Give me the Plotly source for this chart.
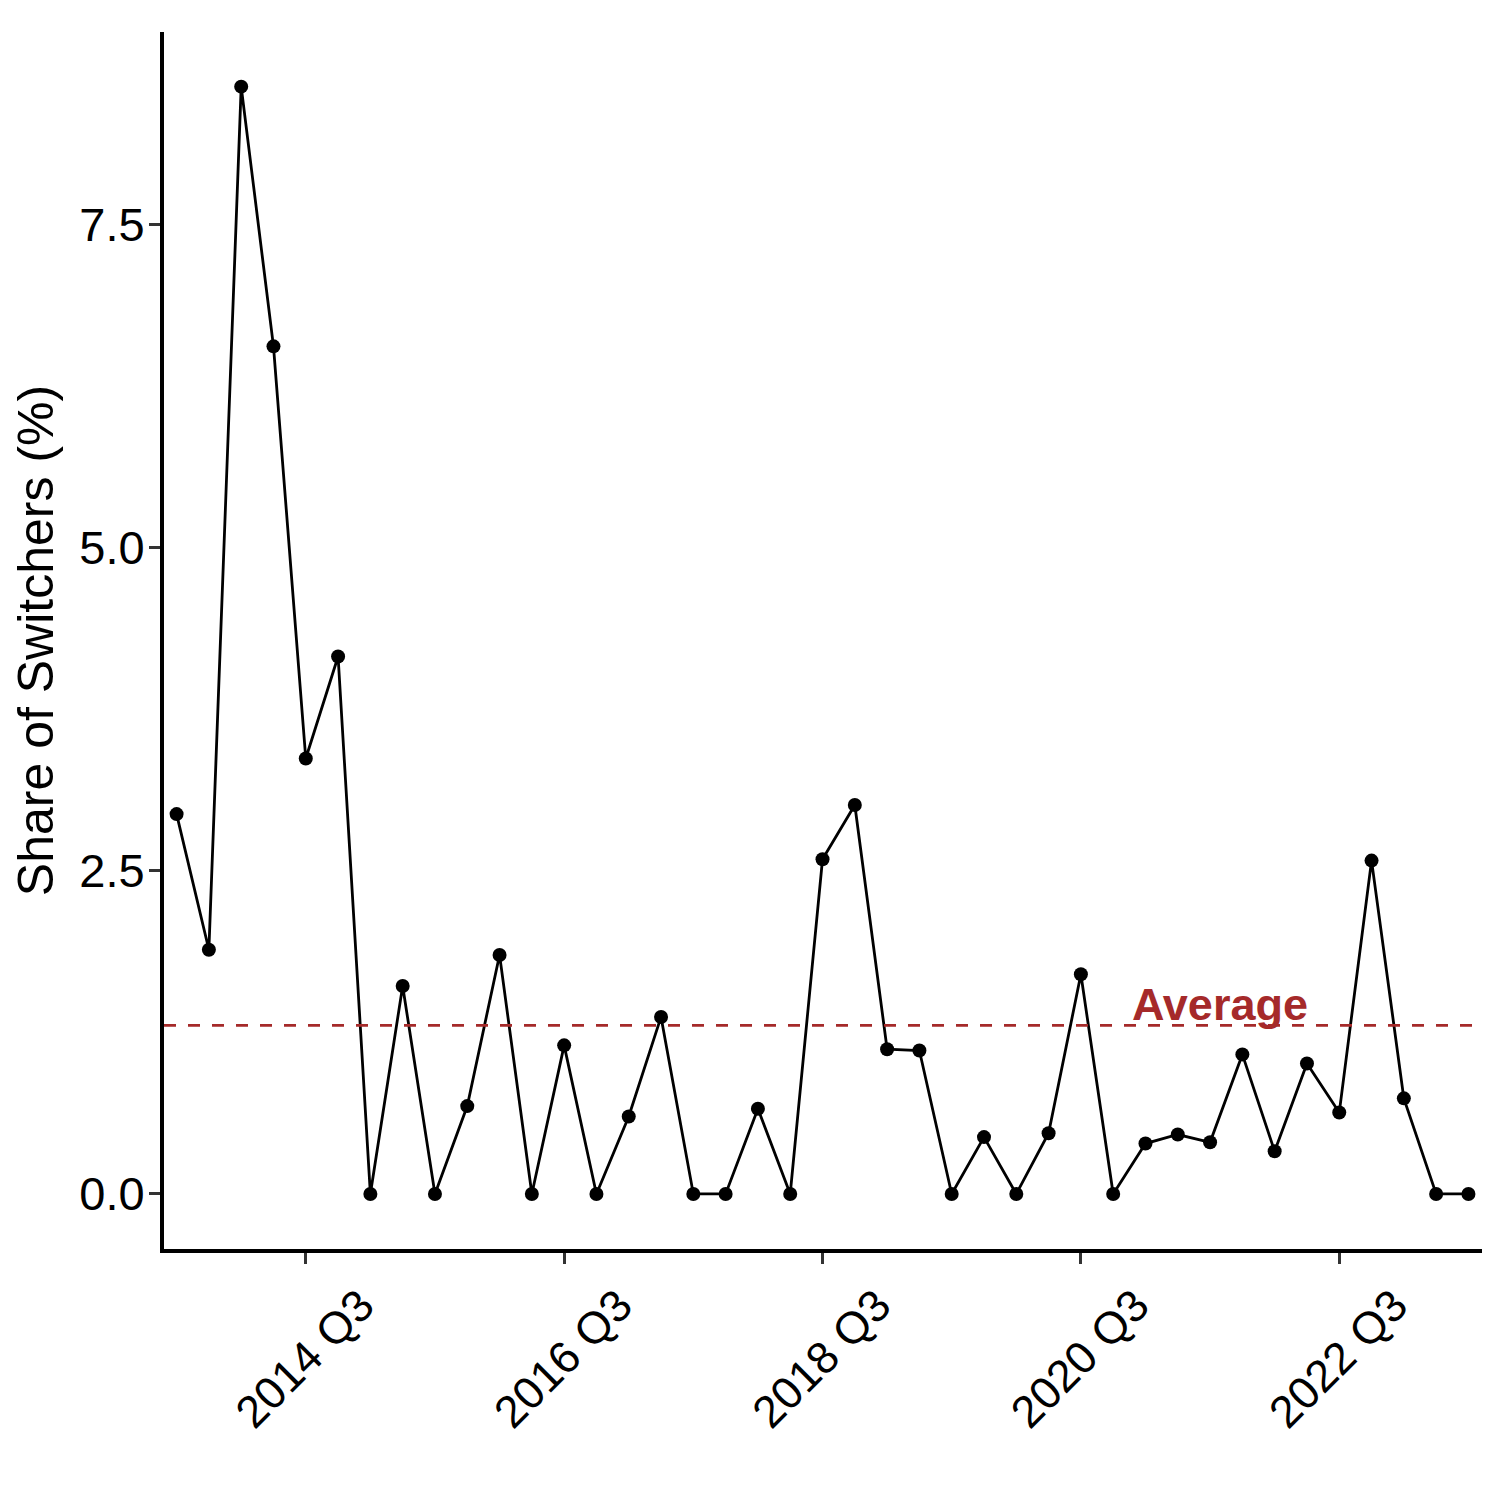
import plotly.graph_objects as go

# quarterly share of switchers, 2013 Q3 - 2023 Q3
quarters = [f"{y} Q{q}" for y in range(2013, 2024) for q in range(1, 5)][2:43]
share = [
    2.94, 1.89, 8.57, 6.56, 3.37, 4.16, 0.00, 1.61, 0.00, 0.68,
    1.85, 0.00, 1.15, 0.00, 0.60, 1.37, 0.00, 0.00, 0.66, 0.00,
    2.59, 3.01, 1.12, 1.11, 0.00, 0.44, 0.00, 0.47, 1.70, 0.00,
    0.39, 0.46, 0.40, 1.08, 0.33, 1.01, 0.63, 2.58, 0.74, 0.00,
    0.00,
]
tick_labels = ["2014 Q3", "2016 Q3", "2018 Q3", "2020 Q3", "2022 Q3"]
avg_label = "Average"

avg = sum(share) / len(share)
xs = list(range(len(quarters)))

FONT = "Liberation Sans, Arial, sans-serif"
BROWN = "#A52A2A"

fig = go.Figure()
fig.add_trace(go.Scatter(
    x=xs, y=share, mode="lines+markers",
    line=dict(color="black", width=2.8),
    marker=dict(color="black", size=14),
    hoverinfo="skip", showlegend=False,
))

fig.add_hline(y=avg, line=dict(color=BROWN, width=2.8, dash="12px,12px"))

fig.add_annotation(
    x=32.3, y=avg, text=f"<b>{avg_label}</b>", showarrow=False,
    xanchor="center", yanchor="bottom", yshift=-7,
    font=dict(family=FONT, size=45, color=BROWN),
)

# page body adds an 8px offset, margins compensate
fig.update_layout(
    width=1506, height=1512,
    margin=dict(l=156, r=32, t=24, b=271),
    paper_bgcolor="white", plot_bgcolor="white",
    font=dict(family=FONT, color="black"),
)
fig.update_xaxes(
    range=[-0.39, 40.42],
    tickmode="array",
    tickvals=[quarters.index(t) for t in tick_labels],
    ticktext=tick_labels,
    tickangle=-45,
    ticklabelshift=55,
    ticklabelstandoff=-3,
    ticks="outside", ticklen=11, tickwidth=3, tickcolor="#333333",
    tickfont=dict(size=45, color="black"),
    showline=True, linecolor="black", linewidth=4,
    showgrid=False, zeroline=False,
)
fig.update_yaxes(
    range=[-0.426, 8.993],
    tickmode="array",
    tickvals=[0, 2.5, 5, 7.5],
    ticktext=["0.0", "2.5", "5.0", "7.5"],
    ticklabelstandoff=-5,
    ticks="outside", ticklen=11, tickwidth=3, tickcolor="#333333",
    tickfont=dict(size=47, color="black"),
    title=dict(text="Share of Switchers (%)", font=dict(size=50), standoff=14),
    showline=True, linecolor="black", linewidth=4,
    showgrid=False, zeroline=False,
)

fig.write_html("out.html")
